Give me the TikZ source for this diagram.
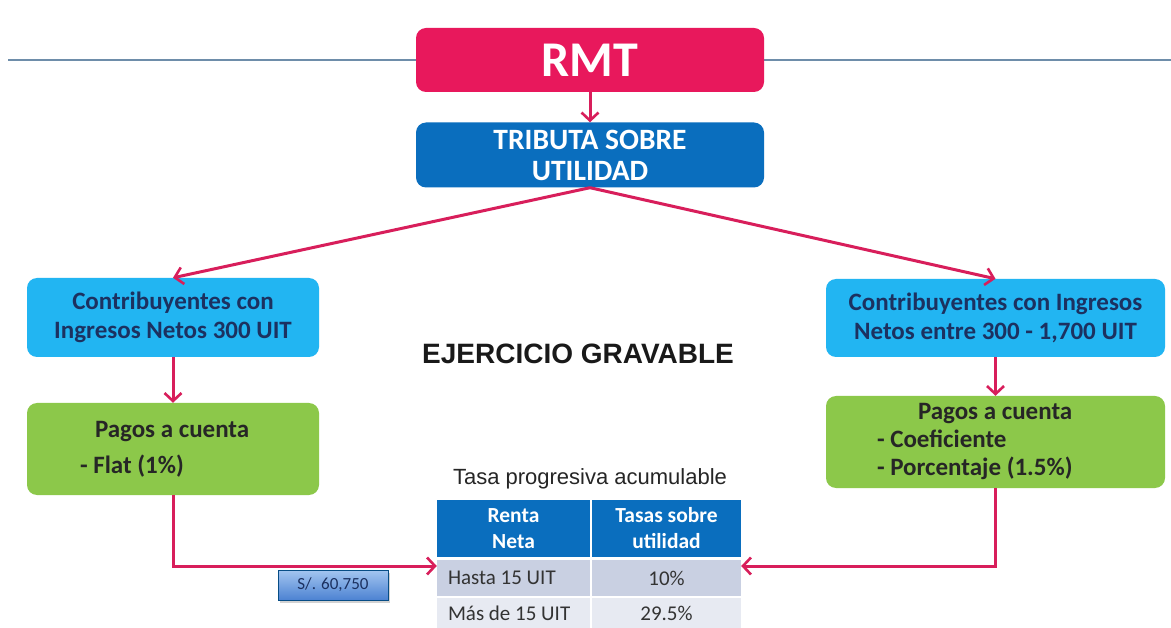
\documentclass[tikz,border=0pt]{standalone}
\usepackage{fontspec}
\setmainfont{Carlito}
\newfontfamily\arialfont{Liberation Sans}
\usetikzlibrary{arrows.meta,shadows}

\definecolor{rmtred}{HTML}{E8185C}
\definecolor{arrowred}{HTML}{D81E5B}
\definecolor{tribblue}{HTML}{0A6EBE}
\definecolor{skyblue}{HTML}{22B5F2}
\definecolor{navytext}{HTML}{1C3160}
\definecolor{leafgreen}{HTML}{8CC84A}
\definecolor{rowdark}{HTML}{C9D0E2}
\definecolor{rowlight}{HTML}{E7EAF2}
\definecolor{rulegray}{HTML}{6E8DAA}
\definecolor{soltop}{HTML}{A4C6F0}
\definecolor{solbot}{HTML}{4C82D2}

\begin{document}
\begin{tikzpicture}[x=1pt,y=-1pt,
  box/.style={rounded corners=10pt,inner sep=0pt},
  bigfont/.style={font=\fontsize{25}{29}\selectfont\bfseries},
  cell/.style={inner sep=0pt,font=\fontsize{21}{21}\selectfont,text=black!80},
  link/.style={arrowred,line width=3pt,
    -{Straight Barb[length=8pt,width=17pt,line width=2.6pt]}}]
\useasboundingbox[fill=white] (0,0) rectangle (1171,628);
\draw[rulegray,line width=1.2pt] (8,60) -- (1171,60);

\node[box,fill=rmtred,text=white,minimum width=348pt,minimum height=64pt,
  font=\fontsize{50}{50}\selectfont\bfseries] (rmt) at (590,60) {RMT};
\node[box,fill=tribblue,text=white,minimum width=348pt,minimum height=65pt,
  align=center,font=\fontsize{29.5}{31}\selectfont\bfseries] (tributa) at (590,155)
  {TRIBUTA SOBRE\\UTILIDAD};

\node[box,bigfont,fill=skyblue,text=navytext,minimum width=292pt,minimum height=79pt,
  align=center] (contl) at (173,317.5) {Contribuyentes con\\Ingresos Netos 300 UIT};
\node[box,bigfont,fill=skyblue,text=navytext,minimum width=339pt,minimum height=78pt,
  align=center] (contr) at (995.5,318) {Contribuyentes con Ingresos\\Netos entre 300 - 1,700 UIT};

\node[box,bigfont,fill=leafgreen,text=black!85,minimum width=292pt,minimum height=92pt,
  align=center] (pagl) at (173,449)
  {\makebox[186pt][l]{\hspace*{15pt}Pagos a cuenta}\\[7pt]\makebox[186pt][l]{- Flat (1\%)}};
\node[box,font=\fontsize{25}{28}\selectfont\bfseries,fill=leafgreen,text=black!85,
  minimum width=339pt,minimum height=92pt,align=center] (pagr) at (995.5,442)
  {\makebox[237pt][l]{\hspace*{41pt}Pagos a cuenta}\\\makebox[237pt][l]{- Coeficiente}\\
   \makebox[237pt][l]{- Porcentaje (1.5\%)}};

\node[font=\arialfont\bfseries\fontsize{28}{28}\selectfont,text=black!90] (ejercicio)
  at (578,354) {EJERCICIO GRAVABLE};
\node[font=\arialfont\fontsize{22}{22}\selectfont,text=black!85] (tasa)
  at (590,479) {Tasa progresiva acumulable};

% tabla
\node[cell,fill=tribblue,text=white,minimum width=153pt,minimum height=57pt,align=center,
  font=\fontsize{21.5}{26}\selectfont\bfseries] (h1) at (513.5,528.5) {Renta\\Neta};
\node[cell,fill=tribblue,text=white,minimum width=149pt,minimum height=57pt,align=center,
  font=\fontsize{21.5}{26}\selectfont\bfseries] (h2) at (666.5,528.5) {Tasas sobre\\utilidad};
\foreach \n/\y/\h/\c/\a/\b in {r1/578/36/rowdark/Hasta 15 UIT/10\%,
                               r2/613/30/rowlight/Más de 15 UIT/29.5\%}
{
\node[cell,fill=\c,minimum height=\h pt,minimum width=153pt]
  (\n a) at (513.5,\y) {\makebox[131pt][l]{\a}};
\node[cell,fill=\c,minimum height=\h pt,minimum width=149pt] (\n b) at (666.5,\y) {\b};
}

\node[draw=tribblue!70!black,line width=0.6pt,top color=soltop,bottom color=solbot,
  minimum width=110pt,minimum height=30pt,inner sep=0pt,
  text=navytext,font=\fontsize{17}{17}\selectfont,
  drop shadow={opacity=0.35,shadow xshift=2pt,shadow yshift=-3pt}] (soles) at (333,585)
  {S/. 60,750};

\draw[link] (rmt.south) -- (tributa.north);
\draw[link] (tributa.south) -- (contl.north);
\draw[link] (tributa.south) -- (contr.north);
\draw[link] (contl.south) -- (pagl.north);
\draw[link] (contr.south) -- (pagr.north);
\draw[link] (pagl.south) |- ([yshift=12pt]r1a.west);
\draw[link] (pagr.south) |- ([yshift=12pt]r1b.east);
\end{tikzpicture}
\end{document}
